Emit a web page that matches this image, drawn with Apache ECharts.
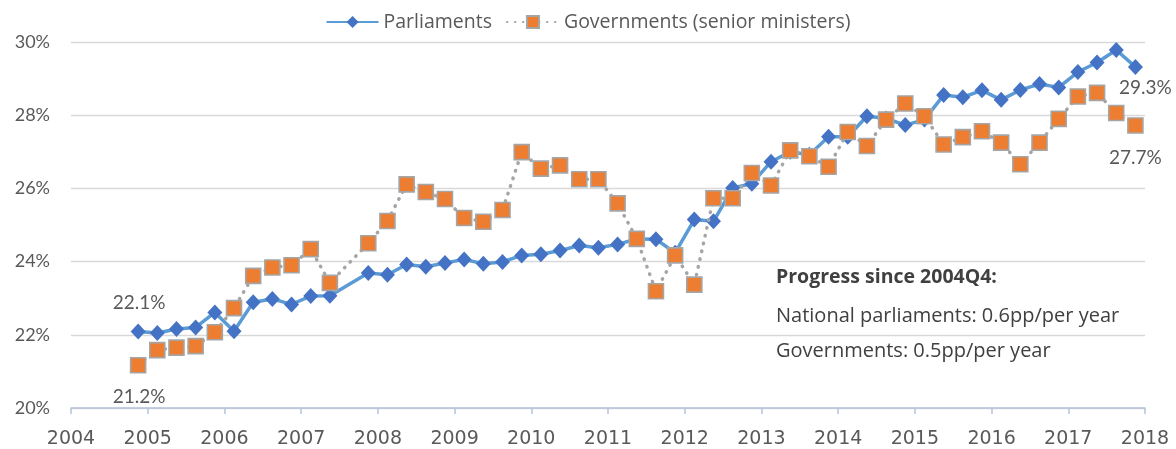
<!DOCTYPE html>
<html>
<head>
<meta charset="utf-8">
<script src="https://cdn.jsdelivr.net/npm/echarts@6/dist/echarts.min.js"></script>
<style>
  html, body { margin: 0; padding: 0; background: #fff; }
  #chart { width: 1176px; height: 449px; }
</style>
</head>
<body>
<div id="chart"></div>
<script>
// Quarterly share of women, 2004Q4 - 2017Q4 (2007Q3 missing)
const quarters = [
    '2004Q4',
    '2005Q1', '2005Q2', '2005Q3', '2005Q4',
    '2006Q1', '2006Q2', '2006Q3', '2006Q4',
    '2007Q1', '2007Q2', '2007Q3', '2007Q4',
    '2008Q1', '2008Q2', '2008Q3', '2008Q4',
    '2009Q1', '2009Q2', '2009Q3', '2009Q4',
    '2010Q1', '2010Q2', '2010Q3', '2010Q4',
    '2011Q1', '2011Q2', '2011Q3', '2011Q4',
    '2012Q1', '2012Q2', '2012Q3', '2012Q4',
    '2013Q1', '2013Q2', '2013Q3', '2013Q4',
    '2014Q1', '2014Q2', '2014Q3', '2014Q4',
    '2015Q1', '2015Q2', '2015Q3', '2015Q4',
    '2016Q1', '2016Q2', '2016Q3', '2016Q4',
    '2017Q1', '2017Q2', '2017Q3', '2017Q4'
];

const parliaments = [
    22.09,
    22.05, 22.16, 22.20, 22.61,
    22.10, 22.89, 22.98, 22.83,
    23.06, 23.07, null, 23.69,
    23.64, 23.92, 23.86, 23.96,
    24.06, 23.94, 23.99, 24.17,
    24.20, 24.30, 24.44, 24.38,
    24.47, 24.62, 24.61, 24.24,
    25.15, 25.10, 26.01, 26.13,
    26.73, 27.00, 26.92, 27.41,
    27.41, 27.97, 27.91, 27.73,
    27.88, 28.55, 28.49, 28.68,
    28.42, 28.69, 28.85, 28.76,
    29.18, 29.44, 29.78, 29.32
];

const governments = [
    21.17,
    21.58, 21.65, 21.69, 22.07,
    22.73, 23.61, 23.84, 23.90,
    24.34, 23.42, null, 24.50,
    25.11, 26.11, 25.90, 25.71,
    25.19, 25.09, 25.41, 26.99,
    26.54, 26.63, 26.25, 26.25,
    25.59, 24.62, 23.19, 24.17,
    23.37, 25.73, 25.73, 26.42,
    26.08, 27.04, 26.88, 26.59,
    27.54, 27.16, 27.88, 28.32,
    27.97, 27.20, 27.40, 27.56,
    27.25, 26.66, 27.25, 27.90,
    28.51, 28.61, 28.06, 27.72
];

const yearTicks = [2004, 2018];
const percentTicks = [20, 30];

const progressNotes = [
    'Progress since 2004Q4:',
    'National parliaments: 0.6pp/per year',
    'Governments: 0.5pp/per year'
];

const FONT = 'Lato, "Noto Sans", sans-serif';
const WIDE_FONT = '"Open Sans", "Noto Sans", sans-serif';
const GREY_TEXT = '#595959';

// quarter -> decimal year (middle of the quarter)
const quarterToYear = (q) => {
    const [year, qq] = q.split('Q');
    return Number(year) + (Number(qq) - 1) * 0.25 + 0.125;
};

const buildData = (values, firstLabel, lastLabel) => {
    const points = [];
    const lastIndex = values.length - 1;
    values.forEach((v, i) => {
        if (v === null) {
            return;
        }
        const item = {value: [quarterToYear(quarters[i]), v]};
        if (i === 0) {
            item.label = firstLabel;
        } else if (i === lastIndex) {
            item.label = lastLabel;
        }
        points.push(item);
    });
    return points;
};

const pointLabel = (extra) => Object.assign({
    show: true,
    formatter: (p) => p.value[1].toFixed(1) + '%',
    fontFamily: FONT,
    fontSize: 19,
    color: GREY_TEXT
}, extra);

const myChart = echarts.init(document.getElementById('chart'), null, {renderer: 'canvas'});

const option = {
    animation: false,
    backgroundColor: '#ffffff',
    grid: {
        left: 71,
        right: 31,
        top: 42,
        bottom: 39,
        containLabel: false
    },
    legend: {
        top: 7,
        left: 'center',
        itemWidth: 52,
        itemHeight: 15,
        itemGap: 14,
        textStyle: {
            fontFamily: WIDE_FONT,
            fontSize: 19.5,
            color: GREY_TEXT
        },
        data: ['Parliaments', 'Governments (senior ministers)']
    },
    xAxis: {
        type: 'value',
        min: yearTicks[0],
        max: yearTicks[1],
        interval: 1,
        axisLine: {
            show: true,
            onZero: false,
            lineStyle: {color: '#b4c3dc', width: 1.5}
        },
        axisTick: {
            show: true,
            inside: false,
            length: 6,
            lineStyle: {color: '#b4c3dc', width: 1.5}
        },
        axisLabel: {
            margin: 22,
            fontFamily: '"DejaVu Sans", sans-serif',
            fontSize: 19,
            color: GREY_TEXT,
            formatter: (v) => String(v)
        },
        splitLine: {show: false}
    },
    yAxis: {
        type: 'value',
        min: percentTicks[0],
        max: percentTicks[1],
        interval: 2,
        axisLine: {show: false},
        axisTick: {show: false},
        axisLabel: {
            margin: 21,
            fontFamily: FONT,
            fontSize: 18,
            color: GREY_TEXT,
            formatter: '{value}%'
        },
        splitLine: {
            lineStyle: {color: '#d9d9d9', width: 1.3}
        }
    },
    series: [
        {
            name: 'Parliaments',
            type: 'line',
            z: 2,
            symbol: 'diamond',
            symbolSize: [15, 16],
            itemStyle: {color: '#4472c4'},
            lineStyle: {color: '#5b9bd5', width: 3.5},
            data: buildData(
                parliaments,
                pointLabel({position: 'top', distance: 11, offset: [1, 0]}),
                pointLabel({position: 'bottom', distance: 3, offset: [10, 0]})
            )
        },
        {
            name: 'Governments (senior ministers)',
            type: 'line',
            z: 3,
            symbol: 'rect',
            symbolSize: 15,
            itemStyle: {
                color: '#ed7d31',
                borderColor: '#a5a5a5',
                borderWidth: 1.6
            },
            lineStyle: {
                color: '#a5a5a5',
                width: 3.5,
                type: [0.5, 7.5],
                cap: 'round'
            },
            data: buildData(
                governments,
                pointLabel({position: 'bottom', distance: 14, offset: [1, 0]}),
                pointLabel({position: 'bottom', distance: 15, offset: [0, 0]})
            )
        }
    ],
    graphic: [
        {
            type: 'text',
            left: 776,
            top: 267,
            style: {
                text: progressNotes[0],
                font: 'bold 19.5px ' + WIDE_FONT,
                fill: '#404040'
            }
        },
        {
            type: 'text',
            left: 776,
            top: 306,
            style: {
                text: progressNotes[1],
                font: '20px ' + WIDE_FONT,
                fill: '#404040'
            }
        },
        {
            type: 'text',
            left: 776,
            top: 341,
            style: {
                text: progressNotes[2],
                font: '20px ' + WIDE_FONT,
                fill: '#404040'
            }
        }
    ]
};

myChart.setOption(option);
</script>
</body>
</html>
